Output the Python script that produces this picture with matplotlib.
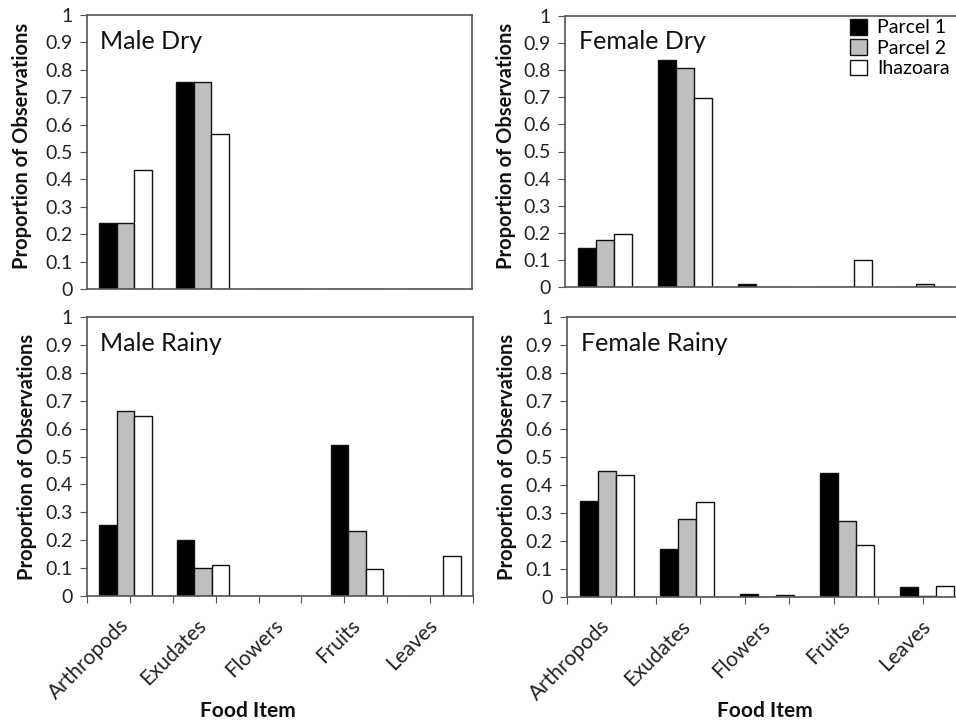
import numpy as np
import matplotlib.pyplot as plt

plt.rcParams['font.family'] = ['Lato', 'DejaVu Sans']

foods = ['Arthropods', 'Exudates', 'Flowers', 'Fruits', 'Leaves']
sites = ['Parcel 1', 'Parcel 2', 'Ihazoara']
colors = ['#000000', '#bfbfbf', '#ffffff']

# proportion of observations per food item, one list per site
male_dry_p1 = [0.24, 0.756, 0, 0, 0]
male_dry_p2 = [0.24, 0.756, 0, 0, 0]
male_dry_ih = [0.436, 0.564, 0, 0, 0]

female_dry_p1 = [0.145, 0.837, 0.012, 0, 0]
female_dry_p2 = [0.174, 0.807, 0, 0, 0.012]
female_dry_ih = [0.194, 0.697, 0, 0.10, 0]

male_rainy_p1 = [0.256, 0.199, 0, 0.541, 0]
male_rainy_p2 = [0.663, 0.100, 0, 0.234, 0]
male_rainy_ih = [0.645, 0.111, 0, 0.097, 0.144]

female_rainy_p1 = [0.344, 0.172, 0.012, 0.443, 0.036]
female_rainy_p2 = [0.449, 0.279, 0, 0.271, 0.005]
female_rainy_ih = [0.437, 0.338, 0.008, 0.184, 0.038]

W, H = 956, 720
fig = plt.figure(figsize=(W / 100, H / 100), dpi=100)


def px_axes(l, t, r, b):
    return fig.add_axes([l / W, 1 - b / H, (r - l) / W, (b - t) / H])


panels = [
    ('Male Dry', (87, 15, 472, 289), [male_dry_p1, male_dry_p2, male_dry_ih], False),
    ('Female Dry', (565, 16, 965, 287), [female_dry_p1, female_dry_p2, female_dry_ih], False),
    ('Male Rainy', (87, 317, 473, 596), [male_rainy_p1, male_rainy_p2, male_rainy_ih], True),
    ('Female Rainy', (567, 317, 967, 597), [female_rainy_p1, female_rainy_p2, female_rainy_ih], True),
]

x = np.arange(len(foods))
bw = 0.226
axes = []
for title, box, series, bottom in panels:
    ax = px_axes(*box)
    axes.append(ax)
    for i, vals in enumerate(series):
        ax.bar(x + (i - 1) * bw, vals, bw, color=colors[i], edgecolor='#111111',
               linewidth=1.0, label=sites[i])
    ax.set_xlim(-0.5, len(foods) - 0.5)
    ax.set_ylim(0, 1)
    ax.set_yticks(np.arange(0, 1.01, 0.1))
    ax.set_yticklabels(['0'] + ['%.1f' % v for v in np.arange(0.1, 0.95, 0.1)] + ['1'])
    for s in ax.spines.values():
        s.set_color('#555555')
        s.set_linewidth(1.2)
    ax.tick_params(axis='y', direction='out', length=5, color='#555555',
                   labelsize=14, labelcolor='#222222', pad=5)
    ax.text(0.034, 0.905, title, transform=ax.transAxes, fontsize=18,
            va='center', ha='left', color='#111111')
    if bottom:
        ax.set_xticks(np.linspace(-0.5, len(foods) - 0.5, 10))
        ax.set_xticklabels([])
        ax.tick_params(axis='x', direction='out', length=5, color='#555555')
        ax.set_xticks(x, minor=True)
        ax.set_xticklabels(foods, minor=True, rotation=45, ha='right', va='center',
                           rotation_mode='anchor', fontsize=15, color='#222222')
        ax.tick_params(axis='x', which='minor', length=0, pad=19)
    else:
        ax.set_xticks([])

for xp, yp in [(22, 146), (506, 146), (27, 457), (507, 457)]:
    fig.text(xp / W, 1 - yp / H, 'Proportion of Observations', rotation=90,
             ha='center', va='center', fontsize=14.5, fontweight='bold', color='#111111')

for xp in [248, 765]:
    fig.text(xp / W, 1 - 711 / H, 'Food Item', ha='center', va='center',
             fontsize=15, fontweight='bold', color='#111111')

axes[1].legend(loc='upper left', bbox_to_anchor=(850 / W, 1 - 19 / H),
               bbox_transform=fig.transFigure, frameon=False, fontsize=14,
               handlelength=0.85, handleheight=0.85, handletextpad=0.55,
               labelspacing=0.15, borderpad=0, borderaxespad=0)

fig.savefig('out.png', dpi=100)
